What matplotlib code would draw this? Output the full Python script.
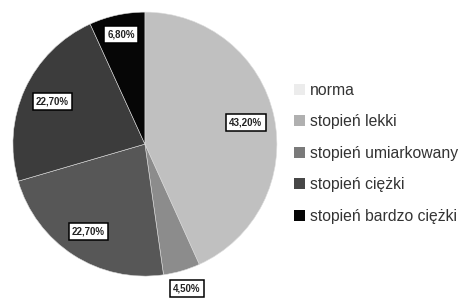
import matplotlib
matplotlib.use('Agg')
import matplotlib.pyplot as plt
from matplotlib.patches import Patch
import numpy as np

# slice values (clockwise from 12 o'clock)
values = [43.2, 4.5, 22.7, 22.7, 6.8]
value_labels = ['43,20%', '4,50%', '22,70%', '22,70%', '6,80%']
slice_colors = ['#c0c0c0', '#8c8c8c', '#575757', '#3c3c3c', '#060606']
label_dist = [0.78, 1.14, 0.79, 0.77, 0.85]

legend_labels = ['norma', 'stopień lekki', 'stopień umiarkowany',
                 'stopień ciężki', 'stopień bardzo ciężki']
legend_colors = ['#ececec', '#b0b0b0', '#7a7a7a', '#474747', '#060606']

plt.rcParams['font.family'] = ['Liberation Sans', 'DejaVu Sans']

fig = plt.figure(figsize=(4.66, 2.99), dpi=100)
ax = fig.add_axes([0.311 - 0.2833, 0.518 - 0.4415, 0.5665, 0.883])

wedges, _ = ax.pie(values, colors=slice_colors, startangle=90, counterclock=False,
                   wedgeprops=dict(edgecolor='#dddddd', linewidth=0.4))
ax.set_xlim(-1, 1)
ax.set_ylim(-1, 1)
ax.set_aspect('equal')

for w, lab, d in zip(wedges, value_labels, label_dist):
    ang = np.deg2rad((w.theta1 + w.theta2) / 2)
    ax.text(d * np.cos(ang), d * np.sin(ang), lab, ha='center', va='center',
            fontsize=7, fontweight='bold', color='#222222',
            bbox=dict(boxstyle='square,pad=0.35', fc='white', ec='black', lw=1.1))

handles = [Patch(facecolor=c, edgecolor='none') for c in legend_colors]
fig.legend(handles, legend_labels, loc='upper left', bbox_to_anchor=(0.615, 0.75),
           frameon=False, fontsize=11.3, labelcolor='#333333',
           handlelength=0.7, handleheight=0.7, handletextpad=0.3, labelspacing=1.05,
           borderpad=0)

fig.savefig('out.png', dpi=100)
